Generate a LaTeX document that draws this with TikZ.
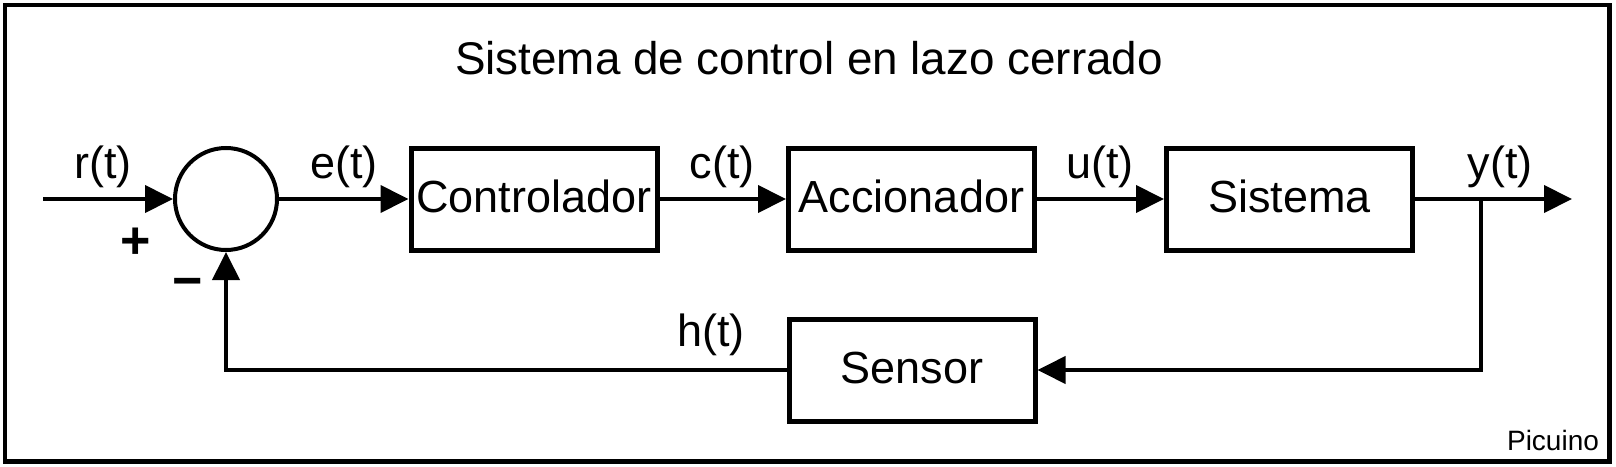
\documentclass[tikz,border=0pt]{standalone}
\usepackage{fontspec}
\setmainfont{Liberation Sans}
\usetikzlibrary{arrows.meta}
\begin{document}
\begin{tikzpicture}[x=0.5pt,y=-0.5pt,
  blk/.style={draw, line width=2.5pt, minimum width=123pt, minimum height=51pt, inner sep=0pt,
    font=\fontsize{22.5}{27}\selectfont, text height=13pt, text depth=0pt},
  sig/.style={line width=2pt, -{Triangle[length=14pt,width=13.5pt]}},
  lbl/.style={anchor=base, inner sep=0pt, font=\fontsize{22.5}{27}\selectfont},
  sgn/.style={anchor=base, inner sep=0pt, font=\fontsize{26}{30}\selectfont\bfseries},
]
\useasboundingbox (0,0) rectangle (1616,466);
\draw[line width=2.2pt] (4.7,5) rectangle (1609.5,461.5);

\node[lbl, font=\fontsize{22.9}{27}\selectfont] (title) at (809,74) {Sistema de control en lazo cerrado};
\node[lbl, font=\fontsize{14}{17}\selectfont] (pic) at (1553,450) {Picuino};

\node[circle, draw, line width=2pt, minimum size=51pt, inner sep=0pt] (sum) at (226,199) {};
\node[blk] (ctrl) at (534,199) {Controlador};
\node[blk] (acc) at (911.5,199) {Accionador};
\node[blk] (sis) at (1289.5,199) {Sistema};
\node[blk] (sen) at (912,370) {Sensor};

\coordinate (in) at (43,199);
\coordinate (out) at (1572,199);
\coordinate (br) at (1481,199);

\draw[sig] (in) -- (sum.west);
\draw[sig] (sum.east) -- (ctrl.west);
\draw[sig] (ctrl.east) -- (acc.west);
\draw[sig] (acc.east) -- (sis.west);
\draw[sig] (sis.east) -- (out);
\draw[sig] (br) |- (sen.east);
\draw[sig] (sen.west) -| (sum.south);

\node[lbl] (lr) at (103,178) {r(t)};
\node[lbl] (le) at (344,178) {e(t)};
\node[lbl] (lc) at (722,178) {c(t)};
\node[lbl] (lu) at (1100,178) {u(t)};
\node[lbl] (ly) at (1500,178) {y(t)};
\node[lbl] (lh) at (711,346) {h(t)};
\node[sgn] (plus) at (135.5,258) {+};
\node[sgn] (minus) at (187.5,298) {−};
\end{tikzpicture}
\end{document}
